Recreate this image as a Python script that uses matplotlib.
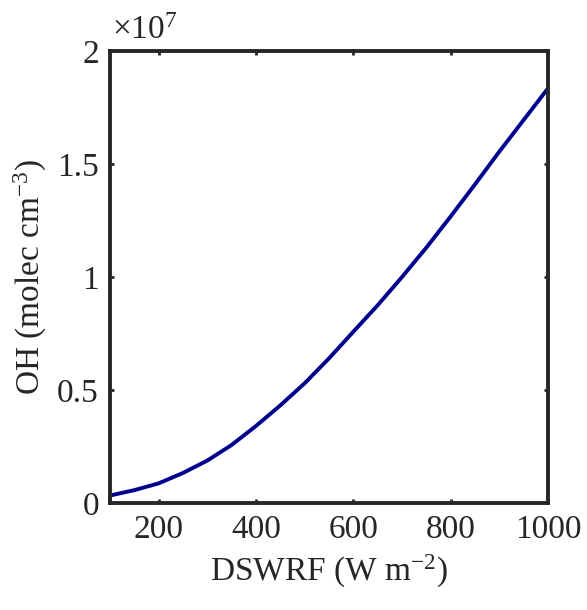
import numpy as np
import matplotlib.pyplot as plt

plt.rcParams['font.family'] = ['Liberation Serif', 'DejaVu Serif']
plt.rcParams['mathtext.fontset'] = 'custom'
plt.rcParams['mathtext.rm'] = 'Liberation Serif'
plt.rcParams['mathtext.it'] = 'Liberation Serif:italic'

# DSWRF (W m-2) and OH (molec cm-3, in units of 1e7)
dswrf = [100, 150, 200, 250, 300, 350, 400, 450, 500, 550,
         600, 650, 700, 750, 800, 850, 900, 950, 1000]
oh = [0.033, 0.057, 0.087, 0.133, 0.188, 0.257, 0.341, 0.432, 0.530, 0.640,
      0.758, 0.875, 1.000, 1.130, 1.268, 1.410, 1.555, 1.695, 1.835]

xticks = [200, 400, 600, 800, 1000]
yticks = [0, 0.5, 1, 1.5, 2]
ytick_labels = ['0', '0.5', '1', '1.5', '2']

fig = plt.figure(figsize=(5.87, 6.10), dpi=100)
ax = fig.add_axes([0.1874, 0.1754, 0.7462, 0.741])

ax.plot(dswrf, np.array(oh) * 1e7, color='#00008f', lw=2.8,
        solid_joinstyle='round')

ax.set_xlim(100, 1000)
ax.set_ylim(0, 2e7)
ax.set_xticks(xticks)
ax.set_yticks(np.array(yticks) * 1e7)
ax.set_yticklabels(ytick_labels)

for s in ax.spines.values():
    s.set_linewidth(2.8)
    s.set_color('#262626')
ax.tick_params(direction='in', length=3, width=2, colors='#262626',
               labelsize=24, top=True, right=True, pad=8)
for lab in ax.get_xticklabels() + ax.get_yticklabels():
    lab.set_color('#262626')

ax.set_xlabel('DSWRF (W m$^{\\mathregular{-2}}$)', fontsize=24, color='#262626', labelpad=6)
ax.set_ylabel('OH (molec cm$^{\\mathregular{-3}}$)', fontsize=24, color='#262626', labelpad=6)
ax.text(0.005, 1.012, '\u00d710$^{\\mathregular{7}}$', transform=ax.transAxes,
        fontsize=24, color='#262626', ha='left', va='bottom')

fig.savefig('out.png', dpi=100)
